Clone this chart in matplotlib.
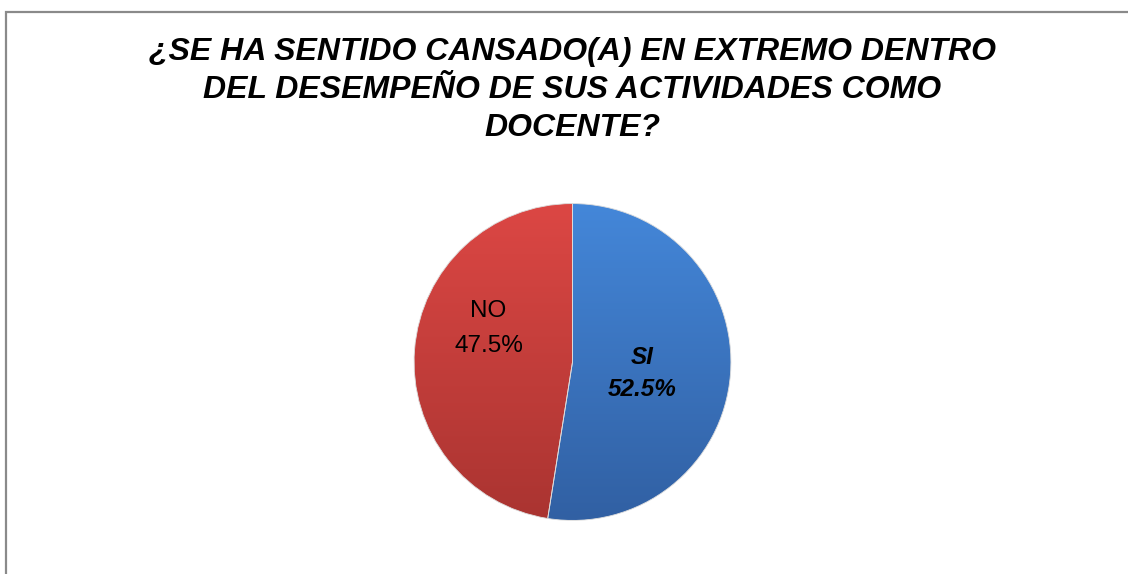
import numpy as np
import matplotlib
matplotlib.use("Agg")
import matplotlib.pyplot as plt
from matplotlib.colors import LinearSegmentedColormap
from matplotlib.patches import Rectangle

plt.rcParams['font.family'] = ['Liberation Sans', 'DejaVu Sans']

# Datos de la encuesta
categorias = ['SI', 'NO']
porcentajes = [52.5, 47.5]
titulo = ('¿SE HA SENTIDO CANSADO(A) EN EXTREMO DENTRO\n'
          'DEL DESEMPEÑO DE SUS ACTIVIDADES COMO\n'
          'DOCENTE?')

# colores (parte baja, parte alta) para el degradado de cada sector
degradados = [('#3160a3', '#4487d9'), ('#aa3431', '#dc4744')]

W, H = 1128, 574
fig = plt.figure(figsize=(W / 100, H / 100), dpi=100)
fig.patch.set_facecolor('white')

# marco gris del area del grafico
fig.patches.append(Rectangle((6 / W, -0.05), 1.2, (H - 12) / H + 0.05,
                             transform=fig.transFigure, fill=False,
                             edgecolor='#8a8a8a', linewidth=1.6))

fig.text(572.5 / W, 1 - 90 / H, titulo, ha='center', va='center',
         fontsize=23, fontweight='bold', fontstyle='italic',
         linespacing=1.33)

# ejes del pastel
cx, cy, r = 572.5, 362, 160
ax = fig.add_axes([(cx - r) / W, (H - cy - r) / H, 2 * r / W, 2 * r / H])
wedges, _ = ax.pie(porcentajes, startangle=90, counterclock=False,
                   radius=1, colors=[d[1] for d in degradados],
                   wedgeprops=dict(edgecolor='#dcdcdc', linewidth=0.6))
ax.set_xlim(-1.01, 1.01)
ax.set_ylim(-1.01, 1.01)
ax.set_aspect('equal')
ax.axis('off')

grad = np.linspace(0, 1, 256).reshape(-1, 1)
for w, (bajo, alto) in zip(wedges, degradados):
    cmap = LinearSegmentedColormap.from_list('g', [bajo, alto])
    im = ax.imshow(grad, extent=[-1, 1, -1, 1], origin='lower', cmap=cmap,
                   aspect='auto', zorder=1)
    im.set_clip_path(w)
    w.set_facecolor('none')
    w.set_zorder(2)

# etiquetas de los sectores
ax.text(0.44, -0.07, f'{categorias[0]}\n{porcentajes[0]:.1f}%',
        ha='center', va='center', fontsize=17.5, fontweight='bold',
        fontstyle='italic', linespacing=1.5, zorder=3)
ax.text(-0.53, 0.21, f'{categorias[1]}\n{porcentajes[1]:.1f}%',
        ha='center', va='center', fontsize=17.5, linespacing=1.75, zorder=3)

fig.savefig('out.png', dpi=100)
